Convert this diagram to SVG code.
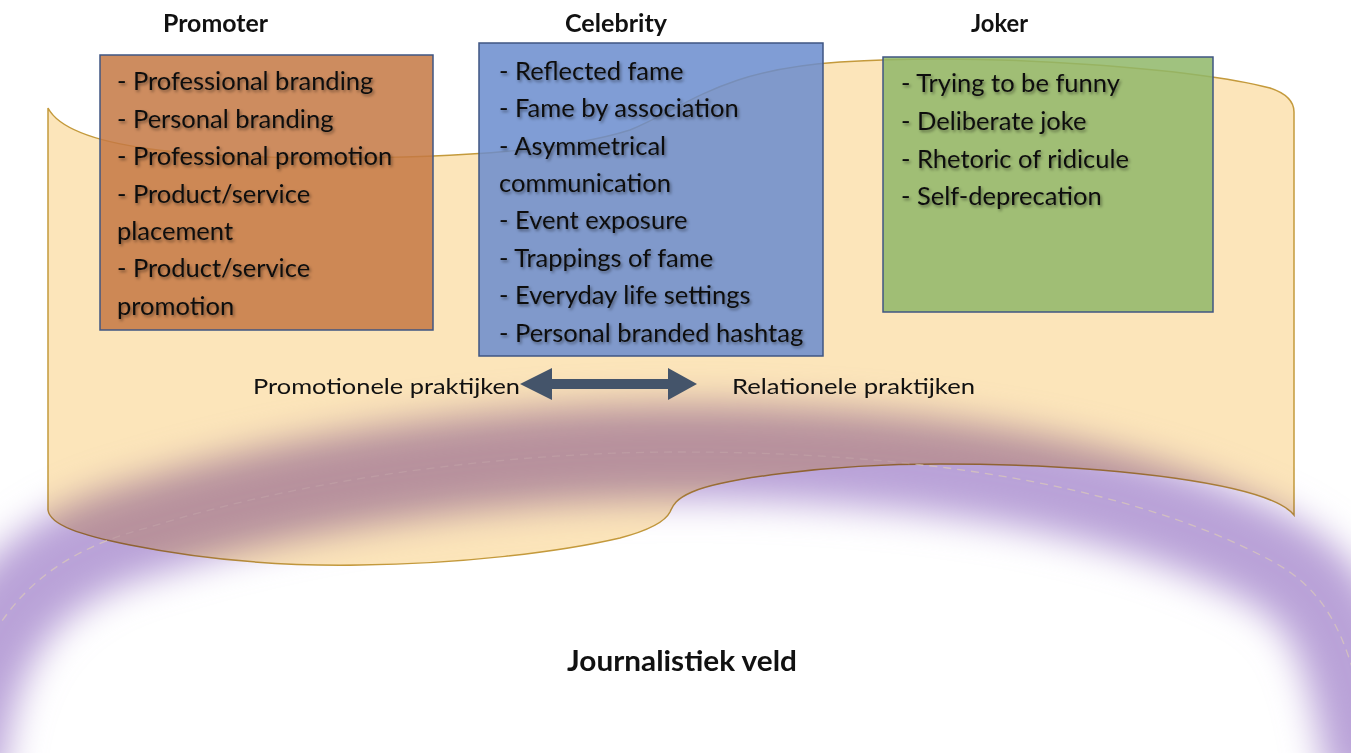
<svg xmlns="http://www.w3.org/2000/svg" width="1351" height="753" viewBox="0 0 1351 753">
<style>
.body{font-family:Lato,"Liberation Sans",sans-serif;font-size:25.5px;fill:#111;}
.title{font-family:Lato,"Liberation Sans",sans-serif;font-size:24px;font-weight:bold;fill:#111;}
.lbl{font-family:Lato,"Liberation Sans",sans-serif;font-size:22px;fill:#111;}
.box{stroke:#3f5683;stroke-width:1.5;}
</style>
<defs>
<filter id="ts" x="-5%" y="-30%" width="110%" height="170%"><feDropShadow dx="1.5" dy="2" stdDeviation="1.4" flood-color="#000" flood-opacity="0.42"/></filter>
<filter id="glow" x="-20%" y="-50%" width="140%" height="200%"><feGaussianBlur stdDeviation="18"/></filter>
<path id="arc" d="M-45,780 C-35,640 20,560 150,527 C300,480 500,452 680,452 C900,452 1120,480 1270,560 C1330,592 1355,640 1375,780" fill="none"/>
<path id="bannerShape" d="M48,108 C70,150 200,158 330,158 C440,158 560,152 630,130 C690,105 720,70 840,62 C1000,52 1200,70 1270,88 Q1294,96 1294,112 L1294,515 C1270,485 1120,464 940,464 C820,464 720,480 692,492 C676,499 673,505 670,512 C665,522 650,530 620,538 C560,552 460,564 360,565 C300,566 220,563 130,545 C80,535 50,525 48,510 Z"/>
<mask id="dm" maskUnits="userSpaceOnUse" x="0" y="0" width="1351" height="753">
<rect width="1351" height="753" fill="#fff"/>
<use href="#bannerShape" fill="#444"/>
</mask>
</defs>
<rect width="1351" height="753" fill="#ffffff"/>
<g id="banner">
<use href="#bannerShape" fill="#fce5ba" stroke="#c49a3c" stroke-width="1.5"/>
</g>
<g id="field">
<use href="#arc" stroke="#b9a2d8" stroke-width="95" filter="url(#glow)" style="mix-blend-mode:multiply"/>
<use href="#arc" stroke="#d8c6bc" stroke-width="1.3" stroke-dasharray="8 6" opacity="0.8" mask="url(#dm)"/>
</g>
<g id="promoter">
<text class="title" x="163" y="32" textLength="105" lengthAdjust="spacingAndGlyphs">Promoter</text>
<rect class="box" x="100" y="55" width="333" height="275" fill="#c47843" fill-opacity="0.85"/>
<g class="body" filter="url(#ts)">
<text x="117" y="90">- Professional branding</text>
<text x="117" y="128">- Personal branding</text>
<text x="117" y="165">- Professional promotion</text>
<text x="117" y="203">- Product/service</text>
<text x="117" y="240">placement</text>
<text x="117" y="277">- Product/service</text>
<text x="117" y="315">promotion</text>
</g>
</g>
<g id="celebrity">
<text class="title" x="565" y="32" textLength="102" lengthAdjust="spacingAndGlyphs">Celebrity</text>
<rect class="box" x="479" y="43" width="344" height="313" fill="#6a8cce" fill-opacity="0.85"/>
<g class="body" filter="url(#ts)">
<text x="499" y="80">- Reflected fame</text>
<text x="499" y="117">- Fame by association</text>
<text x="499" y="155">- Asymmetrical</text>
<text x="499" y="192">communication</text>
<text x="499" y="229">- Event exposure</text>
<text x="499" y="267">- Trappings of fame</text>
<text x="499" y="304">- Everyday life settings</text>
<text x="499" y="342">- Personal branded hashtag</text>
</g>
</g>
<g id="joker">
<text class="title" x="971" y="32" textLength="57" lengthAdjust="spacingAndGlyphs">Joker</text>
<rect class="box" x="883" y="57" width="330" height="255" fill="#8fb768" fill-opacity="0.85"/>
<g class="body" filter="url(#ts)">
<text x="901" y="92">- Trying to be funny</text>
<text x="901" y="130">- Deliberate joke</text>
<text x="901" y="168">- Rhetoric of ridicule</text>
<text x="901" y="205">- Self-deprecation</text>
</g>
</g>
<g id="connectors">
<polygon points="520,384 552,368 552,379 668,379 668,368 697,384 668,400 668,389 552,389 552,400" fill="#44546a"/>
</g>
<g id="labels">
<text class="lbl" x="253" y="394" textLength="267" lengthAdjust="spacingAndGlyphs">Promotionele praktijken</text>
<text class="lbl" x="732" y="394" textLength="243" lengthAdjust="spacingAndGlyphs">Relationele praktijken</text>
<text x="567" y="671" font-family="Lato,'Liberation Sans',sans-serif" font-size="29" font-weight="bold" fill="#111" textLength="230" lengthAdjust="spacingAndGlyphs">Journalistiek veld</text>
</g>
</svg>
